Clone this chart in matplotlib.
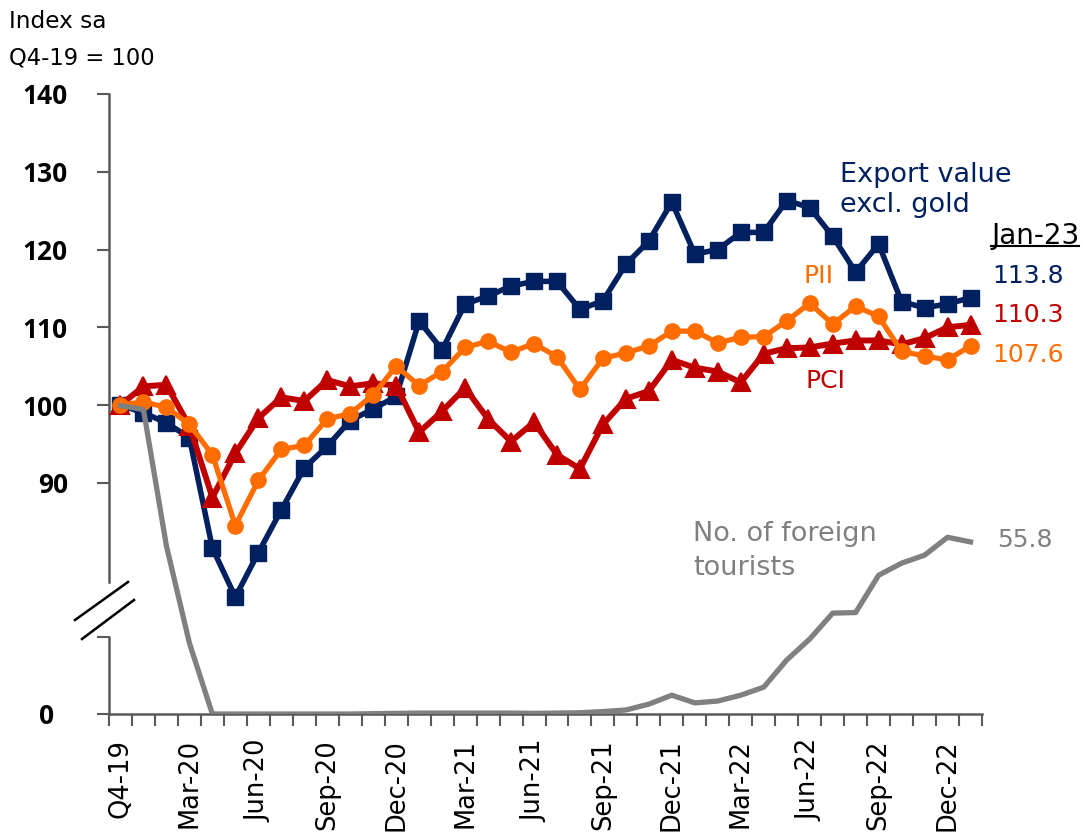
import numpy as np
import matplotlib
matplotlib.use("Agg")
import matplotlib.pyplot as plt
from matplotlib.lines import Line2D

plt.rcParams['font.family'] = ['DejaVu Sans']

# ---------------- data ----------------
tick_labels = ["Q4-19", "Mar-20", "Jun-20", "Sep-20", "Dec-20", "Mar-21", "Jun-21",
               "Sep-21", "Dec-21", "Mar-22", "Jun-22", "Sep-22", "Dec-22"]
tick_every = 3

export_value = [100.0, 99.0, 97.7, 95.8, 81.6, 75.3, 81.0, 86.5, 91.9, 94.7,
                98.0, 99.5, 101.1, 110.8, 107.1, 113.0, 114.0, 115.3, 115.9, 115.9,
                112.3, 113.4, 118.1, 121.1, 126.1, 119.4, 120.0, 122.2, 122.2, 126.3,
                125.4, 121.7, 117.1, 120.7, 113.3, 112.5, 113.0, 113.8]
pii = [100.0, 100.4, 99.7, 97.5, 93.6, 84.5, 90.3, 94.3, 94.8, 98.2,
       98.9, 101.3, 105.0, 102.5, 104.3, 107.4, 108.2, 106.8, 107.9, 106.2,
       102.0, 106.0, 106.7, 107.6, 109.5, 109.5, 108.0, 108.7, 108.8, 110.8,
       113.1, 110.4, 112.7, 111.4, 106.9, 106.3, 105.8, 107.6]
pci = [100.0, 102.4, 102.6, 97.3, 88.1, 93.8, 98.3, 101.0, 100.5, 103.2,
       102.4, 102.8, 102.5, 96.5, 99.2, 102.2, 98.2, 95.3, 97.8, 93.6,
       91.8, 97.5, 100.8, 101.8, 105.8, 104.8, 104.3, 102.9, 106.6, 107.3,
       107.4, 107.9, 108.3, 108.3, 107.8, 108.6, 110.0, 110.3]
tourists = [100.0, 98.7, 54.5, 23.0, 0.0, 0.0, 0.0, 0.0, 0.0, 0.0,
            0.0, 0.1, 0.2, 0.3, 0.3, 0.3, 0.3, 0.3, 0.2, 0.3,
            0.4, 0.8, 1.3, 3.2, 6.1, 3.6, 4.2, 6.1, 8.7, 17.5,
            24.3, 32.7, 32.9, 45.0, 48.9, 51.5, 57.3, 55.8]

NAVY = '#002060'
RED = '#C00000'
ORANGE = '#FF6D00'
GRAY = '#808080'
AXC = '#595959'

W, H = 1083, 833
def fx(x):
    return x / W
def fy(y):
    return 1 - y / H

fig = plt.figure(figsize=(W / 100, H / 100), dpi=100)
ax = fig.add_axes([fx(109), fy(714), (982 - 109) / W, (714 - 94) / H])

n = len(export_value)
x = np.arange(n)

px_per_unit_main = 7.76
px_per_unit_tour = 3.084
ymin = 100 - (714 - 405.6) / px_per_unit_main
ax.set_xlim(-0.5, n - 0.5)
ax.set_ylim(ymin, 140)

ax.plot(x, export_value, color=NAVY, lw=4.0, marker='s', ms=11, zorder=3)
ax.plot(x, pci, color=RED, lw=4.3, marker='^', ms=12.5, zorder=4,
        markeredgewidth=1.5, solid_joinstyle='round')
ax.plot(x, pii, color=ORANGE, lw=3.8, marker='o', ms=11, zorder=5)

ax2 = ax.twinx()
ax2.set_ylim(0, (714 - 94) / px_per_unit_tour)
ax2.plot(x, tourists, color=GRAY, lw=3.8, zorder=6, solid_joinstyle='round')
ax2.set_zorder(ax.get_zorder() + 1)
ax2.patch.set_visible(False)
for s in ax2.spines.values():
    s.set_visible(False)
ax2.set_yticks([])
ax2.tick_params(axis='both', length=0)

for s in ['top', 'right', 'left']:
    ax.spines[s].set_visible(False)
ax.spines['bottom'].set_color(AXC)
ax.spines['bottom'].set_linewidth(1.8)

t25 = ymin + 25 * px_per_unit_tour / px_per_unit_main
upper_low = 100 - (582 - 405.6) / px_per_unit_main
ytr = ax.get_yaxis_transform()
ax.plot([0, 0], [upper_low, 140], color=AXC, lw=1.8, transform=ytr, clip_on=False, zorder=1)
ax.plot([0, 0], [ymin, t25], color=AXC, lw=1.8, transform=ytr, clip_on=False, zorder=1)

yt = [ymin, t25, 90, 100, 110, 120, 130, 140]
yl = ['0', '', '90', '100', '110', '120', '130', '140']
ax.set_yticks(yt)
ax.set_yticklabels(yl, fontsize=19, fontweight='bold', family='Open Sans')
ax.tick_params(axis='y', direction='out', length=8.6, width=1.5, color=AXC, pad=21)
ax.yaxis.get_major_ticks()[0].set_pad(31)

ax.set_xticks(np.arange(-0.5, n, 1.0))
ax.set_xticklabels([])
ax.tick_params(axis='x', which='major', direction='out', length=8.6, width=1.5, color=AXC)
ax.set_xticks(np.arange(0, n, tick_every), minor=True)
ax.set_xticklabels(tick_labels, minor=True, rotation=90, fontsize=18.5)
ax.tick_params(axis='x', which='minor', length=0, pad=18)

fig.add_artist(Line2D([fx(75), fx(128)], [fy(620), fy(582)], color='black', lw=1.8))
fig.add_artist(Line2D([fx(82), fx(134)], [fy(639), fy(600)], color='black', lw=1.8))

fig.text(fx(9), fy(22), "Index sa", fontsize=16.7, va='center', ha='left')
fig.text(fx(9), fy(58), "Q4-19 = 100", fontsize=16.3, va='center', ha='left')

fig.text(fx(840), fy(190), "Export value\nexcl. gold", fontsize=19.5, color=NAVY,
         va='center', ha='left', linespacing=1.22)
jt = fig.text(fx(991), fy(236), "Jan-23", fontsize=20, color='black', va='center', ha='left')
fig.text(fx(992), fy(276), "113.8", fontsize=18, color=NAVY, va='center', ha='left')
fig.text(fx(992), fy(315), "110.3", fontsize=18, color=RED, va='center', ha='left')
fig.text(fx(992), fy(355), "107.6", fontsize=18, color=ORANGE, va='center', ha='left')
fig.text(fx(803), fy(276), "PII", fontsize=18, color=ORANGE, va='center', ha='left')
fig.text(fx(806), fy(381), "PCI", fontsize=18, color=RED, va='center', ha='left')
fig.text(fx(693), fy(551), "No. of foreign\ntourists", fontsize=19.5, color=GRAY,
         va='center', ha='left', linespacing=1.38)
fig.text(fx(997), fy(540), "55.8", fontsize=18, color=GRAY, va='center', ha='left')

fig.canvas.draw()
bb = jt.get_window_extent()
inv = fig.transFigure.inverted()
(x0, y0), (x1, y1) = inv.transform([[bb.x0, bb.y0], [bb.x1, bb.y0]])
fig.add_artist(Line2D([x0, x1], [y0 + 0.005, y0 + 0.005], color='black', lw=1.5))

fig.savefig("out.png", dpi=100)
